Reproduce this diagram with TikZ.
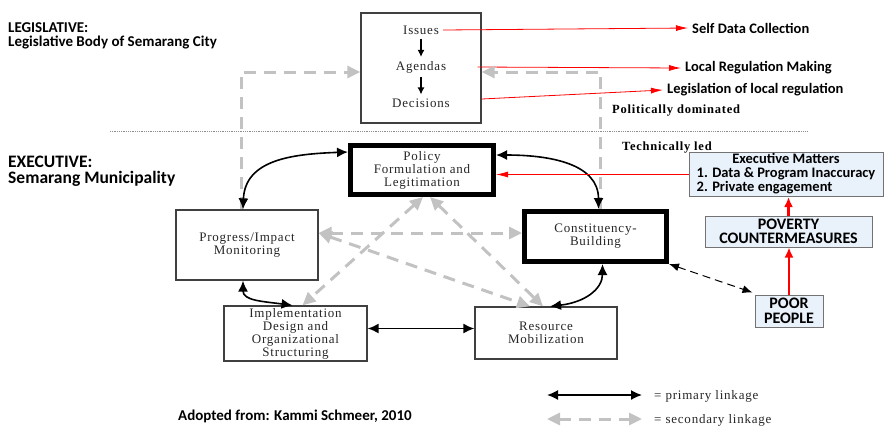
\documentclass[tikz,border=0pt]{standalone}
\usepackage{fontspec}
\setmainfont{Liberation Serif}
\newfontfamily\calibfont{Carlito}
\newfontfamily\spacedfont[LetterSpace=6]{Liberation Serif}
\usetikzlibrary{arrows.meta}
\definecolor{paleblue}{RGB}{233,241,250}
\definecolor{linkgray}{RGB}{194,194,194}

\begin{document}
\begin{tikzpicture}[x=1pt, y=-1pt]

% Styles of nodes and arrows
\tikzstyle{thinbox} = [rectangle, draw=black!75, line width=1.3pt, fill=white, text=black!85, align=center, inner sep=1pt, font=\spacedfont\fontsize{13}{13}\selectfont]
\tikzstyle{thickbox} = [thinbox, draw=black, line width=5pt]
\tikzstyle{bluebox} = [rectangle, draw=black!55, line width=1pt, fill=paleblue, align=center, inner sep=1pt]
\tikzstyle{stagetext} = [text=black!85, inner sep=4pt, font=\spacedfont\fontsize{13}{13}\selectfont]
\tikzstyle{sidetext} = [align=left, inner sep=2pt, font=\calibfont\bfseries\fontsize{15}{14}\selectfont]
\tikzstyle{redlabel} = [inner sep=4pt, font=\calibfont\bfseries\fontsize{14.5}{14}\selectfont]
\tikzstyle{serifnote} = [inner sep=0pt, font=\spacedfont\bfseries\fontsize{12.5}{13}\selectfont]
\tikzstyle{legendtext} = [inner sep=0pt, text=black!85, font=\spacedfont\fontsize{13}{13}\selectfont]
\tikzstyle{primary} = [black, line width=1.6pt, {Latex[length=11pt,width=10pt]}-{Latex[length=11pt,width=10pt]}]
\tikzstyle{secondary} = [linkgray, line width=3pt, dash pattern=on 12pt off 8pt, >={Triangle[length=13pt,width=12pt]}]
\tikzstyle{dashlink} = [black, line width=1pt, dash pattern=on 8pt off 5pt, {Latex[length=10pt,width=8pt]}-{Latex[length=10pt,width=8pt]}]
\tikzstyle{steparrow} = [black, line width=1.2pt, -{Latex[length=7pt,width=7pt]}]
\tikzstyle{redline} = [red, line width=0.8pt, -{Latex[length=12pt,width=6pt]}]
\tikzstyle{redthick} = [red, line width=2.2pt, -{Latex[length=10pt,width=9pt]}]

\useasboundingbox (0,0) rectangle (884,432);

% Legislative part
\node (legtitle) [sidetext, anchor=west] at (6,36) {LEGISLATIVE:\\Legislative Body of Semarang City};
\node (legis) [thinbox, minimum width=120pt, minimum height=110pt] at (421,68) {};
\node (issues) [stagetext] at (421,30) {Issues};
\node (agendas) [stagetext] at (421,67) {Agendas};
\node (decisions) [stagetext] at (421,103) {Decisions};
\draw [steparrow] (issues) -- (agendas);
\draw [steparrow] (agendas) -- (decisions);

\node (selfdata) [redlabel, anchor=west] at (688,28) {Self Data Collection};
\node (localreg) [redlabel, anchor=west] at (681,68) {Local Regulation Making};
\node (legisreg) [redlabel, anchor=west] at (663,90) {Legislation of local regulation};
\draw [redline] (issues.east) -- (selfdata.west);
\draw [redline] ([shift={(-4,0)}]legis.east |- agendas.center) -- (localreg.west);
\draw [redline] ([shift={(0,-4)}]legis.east |- decisions.center) -- (legisreg.west);

\node (polit) [serifnote, anchor=west] at (612,111) {Politically dominated};

% Dividing line
\coordinate (sepL) at (110,131);
\coordinate (sepR) at (808,131);
\draw [black!45, densely dotted, line width=0.8pt] (sepL) -- (sepR);

\node (techn) [serifnote, anchor=west] at (622,148) {Technically led};

% Executive part
\node (exectitle) [sidetext, anchor=west, font=\calibfont\bfseries\fontsize{17.5}{16}\selectfont] at (6,171) {EXECUTIVE:\\Semarang Municipality};
\node (policy) [thickbox, minimum width=143pt, minimum height=49pt] at (422,170) {Policy\\Formulation and\\Legitimation};
\node (progress) [thinbox, minimum width=142pt, minimum height=70pt] at (247,245) {Progress/Impact\\Monitoring};
\node (constit) [thickbox, minimum width=142pt, minimum height=50pt] at (595.5,236.5) {Constituency-\\Building};
\node (impl) [thinbox, minimum width=143pt, minimum height=55pt] at (295.5,333.5) {Implementation\\Design and\\Organizational\\Structuring};
\node (resource) [thinbox, minimum width=142pt, minimum height=52pt] at (546,333) {Resource\\Mobilization};

% Secondary linkages
\draw [secondary, ->] ([shift={(-6,0)}]progress.north) |- ([shift={(0,4)}]legis.west);
\draw [secondary, ->] ([shift={(5,0)}]constit.north) |- ([shift={(0,4)}]legis.east);
\coordinate (pe) at ([shift={(0,-12)}]progress.east);
\draw [secondary, <->] (pe) -- (pe -| constit.west);
\draw [secondary, <->] (pe) -- ([shift={(-16,0)}]resource.north);
\draw [secondary, <->] ([shift={(1,0)}]policy.south) -- ([shift={(7,0)}]impl.north);
\draw [secondary, <->] ([shift={(8,0)}]policy.south) -- ([shift={(-3,0)}]resource.north);

% Primary linkages
\draw [primary] ([shift={(-4,0)}]progress.north) .. controls +(2,-50) and +(-55,2) .. ([shift={(0,-18)}]policy.west);
\draw [primary] ([shift={(0,-15)}]policy.east) .. controls +(55,0) and +(0,-45) .. ([shift={(3,0)}]constit.north);
\draw [primary] ([shift={(-4,0)}]progress.south) .. controls +(0,20) and +(-30,-4) .. ([shift={(-3,0)}]impl.north);
\draw [primary] ([shift={(7,0)}]constit.south) .. controls +(0,25) and +(35,-4) .. ([shift={(4,0)}]resource.north);
\coordinate (ir) at ([shift={(0,-5)}]impl.east);
\draw [primary] (ir) -- (ir -| resource.west);

% Poverty side
\node (execm) [bluebox, minimum width=194pt, minimum height=43pt, font=\calibfont\bfseries\fontsize{14.5}{13}\selectfont] at (786,174.5) {\begin{tabular}{@{}l@{}}\multicolumn{1}{@{}c@{}}{Executive Matters}\\1. Data \& Program Inaccuracy\\2. Private engagement\end{tabular}};
\node (poverty) [bluebox, minimum width=167pt, minimum height=31pt, font=\calibfont\bfseries\fontsize{16}{14.5}\selectfont] at (788.5,231.5) {POVERTY\\COUNTERMEASURES};
\node (poor) [bluebox, minimum width=68pt, minimum height=32pt, font=\calibfont\bfseries\fontsize{16}{14.5}\selectfont] at (789,311) {POOR\\PEOPLE};
\draw [redline] (execm.west) -- (execm.west -| policy.east);
\draw [redthick] (poor.north) -- (poor.north |- poverty.south);
\draw [redthick] (poverty.north) -- (poverty.north |- execm.south);
\draw [dashlink] (constit.south east) -- ([shift={(-2,-2)}]poor.north west);

% Source and legend
\node (adopted) [sidetext, anchor=west] at (176,416) {Adopted from: Kammi Schmeer, 2010};
\coordinate (pa) at (547,395);
\coordinate (pb) at (642,395);
\coordinate (sa) at (547,419);
\coordinate (sb) at (642,419);
\draw [primary] (pa) -- (pb);
\draw [secondary, <->] (sa) -- (sb);
\node (primtext) [legendtext, anchor=west] at (654,396) {= primary linkage};
\node (sectext) [legendtext, anchor=west] at (654,420) {= secondary linkage};

\end{tikzpicture}
\end{document}
